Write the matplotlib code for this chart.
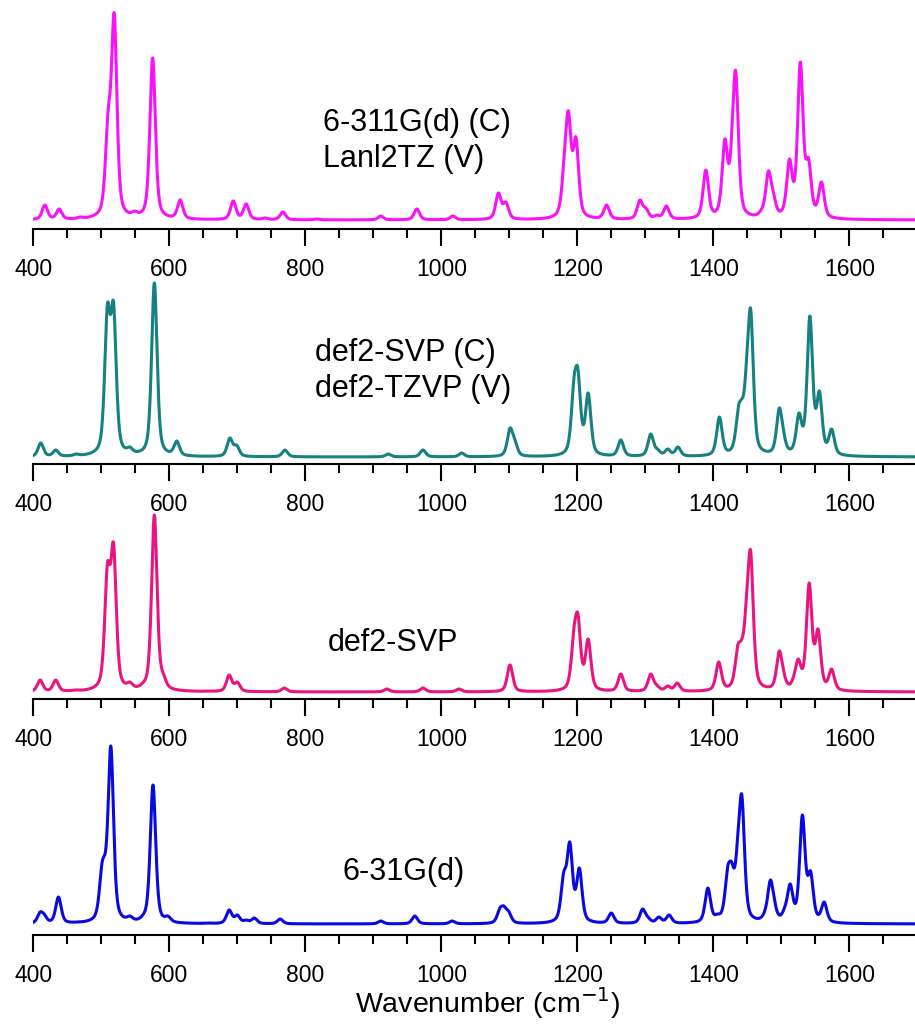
import numpy as np
import matplotlib
matplotlib.use("Agg")
import matplotlib.pyplot as plt
from matplotlib.ticker import MultipleLocator

plt.rcParams['font.family'] = ['Liberation Sans', 'DejaVu Sans']

# peak positions (cm-1) and apparent heights (px above baseline)
pos_1 = [417, 438, 469, 510, 519, 549, 575.5, 616, 694, 713, 741, 767, 817, 911, 964, 1017,
         1084, 1095, 1181, 1187, 1198, 1243, 1292, 1301, 1317, 1331, 1389, 1417, 1428, 1433,
         1471, 1481, 1488, 1512, 1528, 1540, 1559]
hgt_1 = [15, 11, 3, 110, 207, 9, 162, 20, 19, 16, 2, 8, 1, 4, 11, 4,
         27, 18, 68, 109, 83, 15, 20, 12, 5, 14, 50, 81, 100, 149,
         11, 49, 29, 61, 158, 62, 38]

pos_2 = [411, 433, 463, 509, 518, 542, 578, 611, 689, 699, 770, 922, 973, 1030,
         1101, 1108, 1195, 1201, 1216, 1264, 1308, 1318, 1333, 1348, 1409, 1437, 1442,
         1449, 1455, 1497, 1503, 1526, 1542, 1556, 1574]
hgt_2 = [14, 7, 3, 153, 155, 10, 174, 16, 19, 12, 7, 3, 7, 4,
         29, 18, 79, 88, 64, 17, 23, 8, 8, 10, 40, 51, 58,
         99, 148, 49, 28, 44, 141, 66, 28]

pos_3 = [410, 433, 461, 509, 518, 542, 562, 578, 591, 657, 688, 700, 769, 920, 973, 1026,
         1101, 1195, 1201, 1216, 1264, 1308, 1317, 1333, 1347, 1408, 1427, 1436, 1442,
         1449, 1455, 1497, 1503, 1519, 1525, 1541, 1554, 1574]
hgt_3 = [12, 12, 2, 129, 149, 10, 10, 177, 19, 1, 17, 10, 4, 3, 4, 3,
         27, 64, 78, 53, 18, 18, 7, 6, 9, 30, 9, 47, 53,
         99, 141, 41, 23, 18, 33, 109, 63, 23]

pos_4 = [410, 416, 437, 465, 501, 505, 514, 542, 562, 576, 598, 657, 688, 700, 713, 725,
         763, 911, 961, 1016, 1086, 1092, 1099, 1180, 1189, 1203, 1250, 1296, 1304, 1320,
         1335, 1392, 1406, 1421, 1427, 1436, 1442, 1476, 1484, 1490, 1505, 1513, 1531,
         1543, 1563]
hgt_4 = [12, 10, 27, 2, 61, 69, 178, 8, 10, 139, 8, 1, 14, 9, 4, 6,
         5, 3, 8, 3, 16, 18, 13, 52, 82, 56, 11, 15, 7, 7,
         9, 36, 10, 57, 62, 89, 129, 14, 44, 24, 17, 40, 109,
         53, 22]

labels = [["6-311G(d) (C)", "Lanl2TZ (V)"], ["def2-SVP (C)", "def2-TZVP (V)"],
          ["def2-SVP"], ["6-31G(d)"]]
colors = ["#f812f8", "#178080", "#ea1480", "#0a0ae0"]

fwhm = 9.5
eta = 0.5   # lorentzian fraction of the line shape
wn = np.linspace(400, 1700, 6000)


def shape(x, x0):
    g = fwhm / 2
    sig = fwhm / 2.3548
    lo = g ** 2 / ((x - x0) ** 2 + g ** 2)
    ga = np.exp(-0.5 * ((x - x0) / sig) ** 2)
    return eta * lo + (1 - eta) * ga


def spectrum(pos, hgt):
    # amplitudes chosen so the summed curve passes through the read heights
    p = np.array(pos, float)
    h = np.array(hgt, float)
    A = shape(p[:, None], p[None, :])
    amp = np.clip(np.linalg.solve(A, h), 0, None)
    return (amp[None, :] * shape(wn[:, None], p[None, :])).sum(axis=1)


W, H = 915, 1027
fig = plt.figure(figsize=(W / 100, H / 100), dpi=100)

axis_y = [229, 464, 699, 935]      # spine position, px from top
base_gap = [9, 7, 7, 11]           # curve baseline above spine, px
text_xy = [(323, 123), (315, 353), (328, 643), (343, 872)]
ax_h = 225
x0_px, px_per = 33.3, 0.68

for i, (pos, hgt) in enumerate([(pos_1, hgt_1), (pos_2, hgt_2), (pos_3, hgt_3), (pos_4, hgt_4)]):
    width_px = 1300 * px_per
    ax = fig.add_axes([x0_px / W, (H - axis_y[i]) / H, width_px / W, ax_h / H])
    ax.plot(wn, spectrum(pos, hgt), color=colors[i], lw=2.2)
    ax.set_xlim(400, 1700)
    ax.set_ylim(-base_gap[i], ax_h - base_gap[i])
    for s in ["left", "right", "top"]:
        ax.spines[s].set_visible(False)
    ax.spines["bottom"].set_linewidth(1.5)
    ax.set_yticks([])
    ax.xaxis.set_major_locator(MultipleLocator(200))
    ax.xaxis.set_minor_locator(MultipleLocator(50))
    ax.tick_params(axis="x", which="major", direction="out", length=12, width=1.5,
                   labelsize=16.5, pad=9)
    ax.tick_params(axis="x", which="minor", direction="out", length=6.5, width=1.5)
    ax.patch.set_alpha(0)
    tx, ty = text_xy[i]
    for k, line in enumerate(labels[i]):
        fig.text(tx / W, 1 - (ty + 36 * k) / H, line, fontsize=22, ha="left", va="center")

fig.text(488 / W, 1 - 1003 / H, "Wavenumber (cm$^{-1}$)", fontsize=20.5, ha="center", va="center")

fig.savefig("out.png", dpi=100)
